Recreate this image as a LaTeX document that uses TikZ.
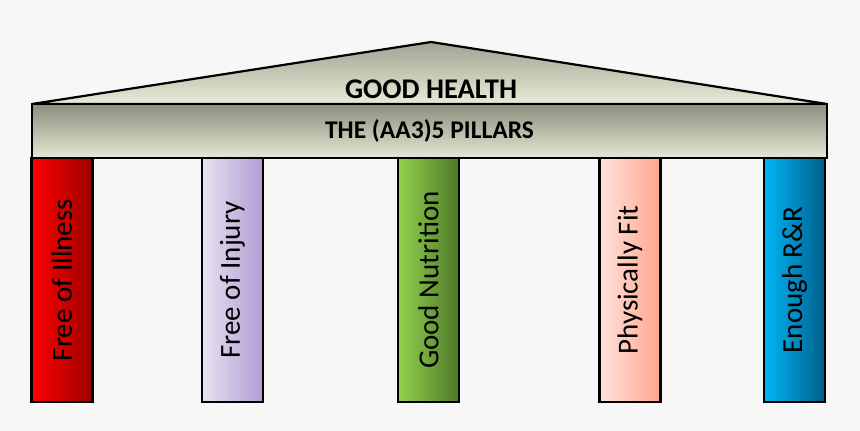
\documentclass[tikz,border=0pt]{standalone}
\usepackage{fontspec}
\setmainfont{Carlito}
\usepackage{tikz}
\usetikzlibrary{positioning}
\definecolor{bgc}{RGB}{247,247,247}
\definecolor{rooftop}{RGB}{160,164,146}
\definecolor{roofbot}{RGB}{231,236,216}
\definecolor{beamtop}{RGB}{138,142,126}
\definecolor{beambot}{RGB}{228,233,211}

\begin{document}
\begin{tikzpicture}[x=1pt, y=-1pt,
  pillar/.style={rectangle, draw=black, line width=2.6pt, minimum width=61pt, minimum height=244pt, inner sep=0pt, font=\fontsize{29}{32}\selectfont},
  beam/.style={rectangle, draw=black, line width=2.6pt, minimum width=795pt, minimum height=54pt, top color=beamtop, bottom color=beambot, font=\bfseries\fontsize{25.5}{29}\selectfont}]
% Fond
\fill[bgc] (0,0) rectangle (860,431);
% Toit
\coordinate (rl) at (32,104);
\coordinate (rt) at (431,42);
\coordinate (rr) at (827,104);
\path[top color=rooftop, bottom color=roofbot, draw=black, line width=2.2pt, line join=miter] (rl) -- (rt) -- (rr) -- cycle;
\node[font=\bfseries\fontsize{28.5}{31}\selectfont] (roof) at (431,89) {GOOD HEALTH};
% Architrave
\node[beam] (beam) at (429.5,131) {THE (AA3)5 PILLARS};
% Piliers
\node[pillar, left color={rgb,255:red,255;green,0;blue,0}, right color={rgb,255:red,158;green,0;blue,0}] (p1) at (62,280) {\rotatebox{90}{Free of Illness}};
\node[pillar, left color={rgb,255:red,232;green,226;blue,240}, right color={rgb,255:red,176;green,156;blue,212}] (p2) at (232.5,280) {\rotatebox{90}{Free of Injury}};
\node[pillar, left color={rgb,255:red,146;green,210;blue,80}, right color={rgb,255:red,78;green,120;blue,38}] (p3) at (428.5,280) {\rotatebox{90}{Good Nutrition}};
\node[pillar, left color={rgb,255:red,255;green,226;blue,220}, right color={rgb,255:red,255;green,166;blue,140}] (p4) at (630,280) {\rotatebox{90}{Physically Fit}};
\node[pillar, left color={rgb,255:red,0;green,182;blue,245}, right color={rgb,255:red,0;green,94;blue,140}] (p5) at (794.5,280) {\rotatebox{90}{Enough R\&R}};
\end{tikzpicture}
\end{document}
